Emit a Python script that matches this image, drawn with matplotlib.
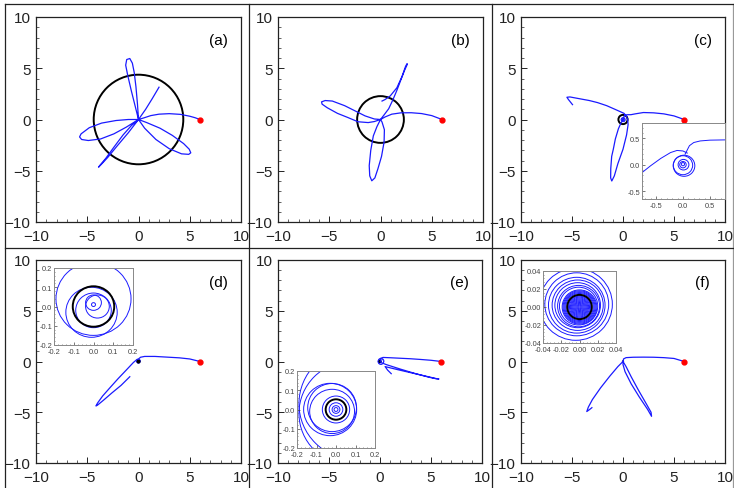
import matplotlib
matplotlib.use("Agg")
import matplotlib.pyplot as plt
from matplotlib.lines import Line2D
from matplotlib.patches import Circle
from matplotlib.ticker import MultipleLocator, FormatStrFormatter

plt.rcParams['font.family'] = ['Liberation Sans', 'DejaVu Sans']

W, H = 734, 489

labels = ['(a)', '(b)', '(c)', '(d)', '(e)', '(f)']
start_point = (6.0, 0.0)
ring_radius = [4.37, 2.28, 0.45, 0.105, 0.053, 0.0135]

# trajectories
a_x = [6.0, 5.5, 5.0, 4.1, 3.0, 2.0, 1.2, 0.5, 0.0,
       0.8, 2.1, 3.3, 4.4, 4.95, 5.1, 4.9, 4.2, 3.0, 1.7, 0.6, 0.0,
       -0.7, -1.5, -2.4, -3.2, -3.75, -3.9, -3.65, -3.0, -2.1, -1.0, 0.0,
       -1.2, -2.4, -3.7, -4.9, -5.55, -5.75, -5.6, -4.8, -3.6, -2.2, -1.0, 0.0,
       -0.3, -0.7, -1.05, -1.25, -1.15, -0.85, -0.6, -0.42, -0.25, -0.1, 0.0,
       0.7, 1.35, 2.0]
a_y = [0.0, 0.18, 0.32, 0.5, 0.57, 0.52, 0.38, 0.15, 0.0,
       -0.3, -0.85, -1.55, -2.35, -2.9, -3.25, -3.4, -3.35, -2.85, -1.95, -0.85, 0.0,
       -0.6, -1.5, -2.7, -3.8, -4.45, -4.65, -4.4, -3.7, -2.6, -1.3, 0.0,
       -0.75, -1.4, -1.9, -2.05, -1.95, -1.7, -1.4, -0.8, -0.35, -0.1, 0.0, 0.0,
       1.2, 2.8, 4.3, 5.3, 5.85, 5.95, 5.5, 4.6, 3.2, 1.5, 0.0,
       1.0, 2.05, 3.15]

b_x = [6.0, 5.0, 4.0, 3.0, 2.0, 1.1, 0.45, 0.0,
       -0.35, -0.7, -0.95, -1.1, -1.05, -0.85, -0.55, -0.25, 0.1, 0.35, 0.38, 0.15, 0.0,
       -0.6, -1.2, -2.2, -3.2, -4.2, -5.2, -5.7, -5.75, -5.4, -4.7, -3.5, -2.4, -1.5, -0.6, 0.0,
       0.35, 0.8, 1.2, 1.6, 2.0, 2.35, 2.6, 2.6, 2.45, 2.1, 1.6, 0.95, 0.45, 0.15]
b_y = [0.0, 0.38, 0.58, 0.66, 0.65, 0.52, 0.25, 0.0,
       -0.7, -1.6, -3.0, -4.5, -5.5, -5.98, -5.7, -4.8, -3.6, -2.2, -1.0, -0.25, 0.0,
       -0.2, -0.3, -0.22, 0.2, 0.6, 1.15, 1.5, 1.72, 1.85, 1.8, 1.35, 0.8, 0.35, 0.05, 0.0,
       0.45, 1.05, 1.9, 2.85, 3.9, 4.8, 5.35, 5.45, 5.2, 4.2, 3.1, 2.3, 1.95, 1.8]

c_x = [6.0, 5.0, 4.0, 3.0, 2.0, 1.2, 0.78, 0.5, 0.3, 0.15, 0.08, 0.02,
       -0.2, -0.45, -0.75, -0.95, -1.11, -1.2, -1.21, -1.1, -0.85, -0.5, 0.0, 0.35, 0.5, 0.45,
       0.3, 0.1, -0.8, -1.6, -2.5, -3.3, -4.5, -5.2, -5.5, -5.35, -4.95]
c_y = [0.0, 0.35, 0.55, 0.65, 0.68, 0.55, 0.47, 0.47, 0.45, 0.38, 0.25, 0.0,
       -0.35, -0.9, -1.9, -2.9, -3.6, -4.8, -5.7, -6.0, -5.5, -4.3, -2.9, -1.5, -0.5, 0.05,
       0.35, 0.6, 1.0, 1.35, 1.65, 1.85, 2.07, 2.2, 2.17, 1.95, 1.45]

d_x = [6.0, 5.0, 4.0, 2.8, 1.6, 0.6, 0.2, 0.0,
       -0.15, -0.5, -1.2, -2.0, -2.8, -3.5, -4.0, -4.15, -4.0, -3.4, -2.6, -1.7, -0.85]
d_y = [0.0, 0.25, 0.36, 0.43, 0.5, 0.5, 0.42, 0.25,
       0.2, -0.1, -0.85, -1.7, -2.6, -3.4, -4.1, -4.38, -4.3, -3.8, -3.1, -2.35, -1.5]

e_x = [6.0, 5.0, 4.0, 3.0, 2.0, 1.0, 0.3, 0.05, 0.1,
       0.6, 2.0, 3.5, 4.8, 5.5, 5.78, 5.5, 4.3, 3.0, 1.8, 0.9, 0.5, 0.75, 1.1]
e_y = [0.0, 0.12, 0.2, 0.27, 0.32, 0.37, 0.4, 0.3, -0.1,
       -0.3, -0.75, -1.2, -1.55, -1.7, -1.72, -1.68, -1.4, -1.1, -0.82, -0.6, -0.5, -0.85, -1.2]

f_x = [6.0, 5.0, 4.0, 3.0, 2.0, 1.0, 0.3, 0.05,
       0.0, 0.2, 0.8, 1.6, 2.4, 2.8, 2.75, 2.3, 1.5, 0.8, 0.3, 0.0,
       -0.5, -1.3, -2.2, -3.0, -3.4, -3.55, -3.3, -3.05]
f_y = [0.0, 0.3, 0.38, 0.42, 0.43, 0.42, 0.38, 0.25,
       -0.3, -1.0, -2.2, -3.5, -4.7, -5.4, -5.0, -4.2, -2.8, -1.5, -0.5, 0.0,
       -0.5, -1.45, -2.6, -3.75, -4.5, -4.93, -4.75, -4.55]

# small loops around the centre (centre x, centre y, radius)
c_loop_x = [0.02, 0.0, 0.01, 0.0, 0.0]
c_loop_y = [-0.02, -0.01, 0.0, 0.0, 0.01]
c_loop_r = [0.2, 0.18, 0.1, 0.06, 0.03]

d_loop_x = [0.0, -0.01, 0.0, 0.02, 0.0, 0.0]
d_loop_y = [0.04, -0.03, -0.02, 0.0, 0.02, 0.01]
d_loop_r = [0.19, 0.13, 0.09, 0.06, 0.04, 0.01]

e_loop_x = [0.08, 0.1, -0.03, -0.02, -0.02, 0.0, 0.0, 0.0, 0.0]
e_loop_y = [-0.02, 0.03, 0.0, 0.01, -0.01, 0.0, 0.0, 0.0, 0.0]
e_loop_r = [0.27, 0.29, 0.136, 0.125, 0.115, 0.07, 0.035, 0.02, 0.01]

f_loop_x = [0.0, 0.0, 0.0, 0.0, 0.0, 0.0, 0.0, 0.0, 0.0, 0.0, 0.0, 0.0, 0.0,
            0.0, 0.0, 0.0, 0.0, 0.0, -0.001, -0.001, -0.002, -0.002, -0.003, -0.003, -0.004]
f_loop_y = [0.0, 0.0, 0.0, 0.0, 0.0, 0.0, 0.0, 0.0, 0.0, 0.0, 0.0, 0.0, 0.0,
            0.0, 0.0, 0.0, 0.0, 0.0, 0.001, 0.001, 0.002, 0.002, 0.002, 0.003, 0.003]
f_loop_r = [0.001, 0.002, 0.003, 0.004, 0.005, 0.006, 0.007, 0.008, 0.009, 0.010,
            0.011, 0.012, 0.013, 0.015, 0.016, 0.017, 0.018, 0.019, 0.021, 0.023,
            0.025, 0.028, 0.031, 0.035, 0.04]

# arcs of the trajectory that cross the inset windows
c_arc1_x = [0.78, 0.5, 0.32, 0.2, 0.12, 0.07, 0.04]
c_arc1_y = [0.47, 0.465, 0.45, 0.42, 0.36, 0.26, 0.2]
c_arc2_x = [-0.76, -0.6, -0.41, -0.23, -0.11, 0.0, 0.08]
c_arc2_y = [-0.15, -0.02, 0.12, 0.23, 0.27, 0.26, 0.22]

paths = [(a_x, a_y), (b_x, b_y), (c_x, c_y), (d_x, d_y), (e_x, e_y), (f_x, f_y)]
loops = [None, None, (c_loop_x, c_loop_y, c_loop_r), (d_loop_x, d_loop_y, d_loop_r),
         (e_loop_x, e_loop_y, e_loop_r), (f_loop_x, f_loop_y, f_loop_r)]
inset_arcs = [[], [], [(c_arc1_x, c_arc1_y), (c_arc2_x, c_arc2_y)], [], [], []]
inset_ring = [False, False, False, True, True, True]

# panel frames in pixels: left, top, right, bottom
main_px = [(36, 18, 241, 223), (278, 18, 483, 223), (521, 18, 725, 223),
           (36, 261, 241, 464), (278, 261, 482, 464), (521, 261, 725, 464)]
inset_px = [None, None, (642, 124, 725, 200), (54, 269, 133, 346),
            (297, 372, 375, 449), (543, 272, 616, 344)]
inset_lim = [None, None, (-0.76, 0.78, -0.65, 0.79), (-0.2, 0.2, -0.2, 0.2),
             (-0.2, 0.2, -0.2, 0.2), (-0.04, 0.04, -0.04, 0.04)]
inset_step = [None, None, 0.5, 0.1, 0.1, 0.02]
inset_fmt = [None, None, '%.1f', '%.1f', '%.1f', '%.2f']

blue = '#1a1aff'

fig = plt.figure(figsize=(W / 100, H / 100), dpi=100)


def px_axes(box):
    x0, y0, x1, y1 = box
    return fig.add_axes([x0 / W, 1 - y1 / H, (x1 - x0) / W, (y1 - y0) / H])


def draw_loops(ax, i, lw):
    if loops[i] is not None:
        for cx, cy, r in zip(*loops[i]):
            ax.add_patch(Circle((cx, cy), r, fill=False, ec=blue, lw=lw))


for i in range(6):
    ax = px_axes(main_px[i])
    px, py = paths[i]
    ax.plot(px, py, color=blue, lw=0.9, solid_joinstyle='round')
    draw_loops(ax, i, 0.6)
    ax.add_patch(Circle((0, 0), ring_radius[i], fill=False, ec='black', lw=1.4))
    ax.plot(*start_point, 'o', color='red', ms=3.5, zorder=5)
    ax.set_xlim(-10, 10)
    ax.set_ylim(-10, 10)
    ax.xaxis.set_major_locator(MultipleLocator(5))
    ax.yaxis.set_major_locator(MultipleLocator(5))
    ax.xaxis.set_minor_locator(MultipleLocator(1))
    ax.yaxis.set_minor_locator(MultipleLocator(1))
    ax.tick_params(which='both', direction='in', labelsize=11, colors='#222222')
    ax.tick_params(axis='x', pad=5)
    ax.tick_params(axis='y', pad=4)
    ax.tick_params(which='major', length=4, width=0.7)
    ax.tick_params(which='minor', length=2, width=0.5)
    for s in ax.spines.values():
        s.set_linewidth(0.9)
        s.set_color('#222222')
    ax.text(7.8, 7.8, labels[i], fontsize=11, ha='center', va='center')

    if inset_px[i] is not None:
        ins = px_axes(inset_px[i])
        draw_loops(ins, i, 0.7)
        for arc_x, arc_y in inset_arcs[i]:
            ins.plot(arc_x, arc_y, color=blue, lw=0.7)
        if inset_ring[i]:
            ins.add_patch(Circle((0, 0), ring_radius[i], fill=False, ec='black', lw=1.4))
        x0, x1, y0, y1 = inset_lim[i]
        ins.set_xlim(x0, x1)
        ins.set_ylim(y0, y1)
        ins.set_facecolor('white')
        ins.xaxis.set_major_locator(MultipleLocator(inset_step[i]))
        ins.yaxis.set_major_locator(MultipleLocator(inset_step[i]))
        ins.xaxis.set_minor_locator(MultipleLocator(inset_step[i] / 5))
        ins.yaxis.set_minor_locator(MultipleLocator(inset_step[i] / 5))
        ins.xaxis.set_major_formatter(FormatStrFormatter(inset_fmt[i]))
        ins.yaxis.set_major_formatter(FormatStrFormatter(inset_fmt[i]))
        ins.tick_params(which='both', direction='in', labelsize=5.3, colors='#444444')
        ins.tick_params(axis='x', pad=2.2)
        ins.tick_params(axis='y', pad=1.2)
        ins.tick_params(which='major', length=2, width=0.5)
        ins.tick_params(which='minor', length=1, width=0.4)
        for s in ins.spines.values():
            s.set_linewidth(0.7)
            s.set_color('#888888')

# grid of frame lines around the panels
for x in [5, 249, 492]:
    fig.add_artist(Line2D([x / W, x / W], [0, 1 - 5 / H], color='#222222', lw=0.9))
fig.add_artist(Line2D([733 / W, 733 / W], [0, 1 - 5 / H], color='#999999', lw=0.9))
for y in [5, 249]:
    fig.add_artist(Line2D([5 / W, 733 / W], [1 - y / H, 1 - y / H], color='#222222', lw=0.9))

fig.savefig('out.png', dpi=100)
